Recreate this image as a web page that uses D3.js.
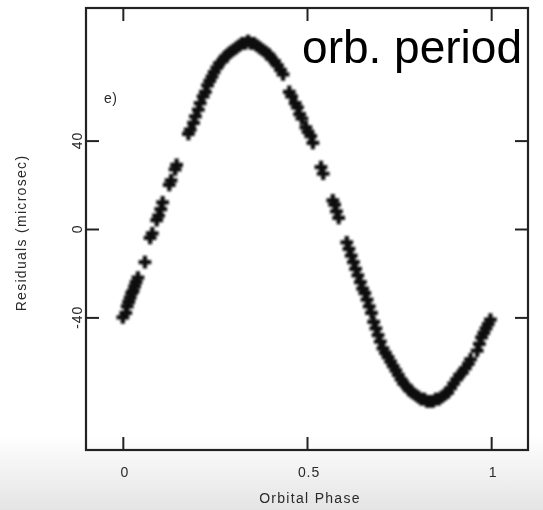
<!DOCTYPE html>
<html>
<head>
<meta charset="utf-8">
<script src="https://cdn.jsdelivr.net/npm/d3@7"></script>
<style>
  body { margin: 0; background: #fff; }
  text { font-family: "Liberation Sans", Arial, sans-serif; }
</style>
</head>
<body>
<div id="chart"></div>
<script>
// data: orbital phase vs timing residual (microsec)
var phase = [0.000, 0.008, 0.012, 0.016, 0.020, 0.024, 0.028, 0.032, 0.036, 0.041,
  0.060, 0.074, 0.080, 0.092, 0.097, 0.103, 0.108, 0.126, 0.131, 0.142, 0.146,
  0.178, 0.183, 0.192, 0.197, 0.205, 0.210, 0.218, 0.224, 0.230, 0.236, 0.242, 0.248,
  0.255, 0.262, 0.270, 0.278, 0.285, 0.292, 0.300, 0.308, 0.316, 0.324, 0.332, 0.340,
  0.348, 0.356, 0.364, 0.372, 0.380, 0.388, 0.396, 0.404, 0.412, 0.420, 0.428, 0.435,
  0.452, 0.458, 0.468, 0.474, 0.480, 0.486, 0.497, 0.503, 0.510, 0.516,
  0.538, 0.544, 0.570, 0.575, 0.580, 0.586,
  0.608, 0.614, 0.620, 0.626, 0.632, 0.638, 0.645, 0.651, 0.657, 0.663, 0.669, 0.675,
  0.681, 0.687, 0.693, 0.699, 0.706, 0.713, 0.720, 0.727, 0.734, 0.741, 0.748, 0.755,
  0.762, 0.770, 0.778, 0.786, 0.794, 0.802, 0.810, 0.818, 0.826, 0.834, 0.842, 0.850,
  0.858, 0.866, 0.874, 0.882, 0.890, 0.898, 0.906, 0.914, 0.922, 0.930, 0.938, 0.944,
  0.962, 0.968, 0.974, 0.980, 0.986, 0.992, 0.998];
var residual = [-40, -38, -35, -33, -31, -29, -28, -26, -24, -22,
  -15, -4, -2, 4, 6, 9, 12, 20, 22, 27, 29,
  43, 45, 48, 51, 54, 57, 60, 62, 65, 67, 69, 71,
  73, 75, 76, 78, 79, 80, 81, 82, 83, 84, 84, 85,
  84, 84, 83, 82, 81, 80, 79, 77, 76, 74, 72, 70,
  62, 60, 57, 55, 52, 50, 46, 44, 42, 39,
  28, 25, 13, 11, 8, 5,
  -6, -9, -12, -15, -18, -21, -24, -27, -29, -32, -35, -38,
  -42, -45, -48, -51, -54, -56, -58, -60, -62, -64, -66, -68,
  -70, -71, -73, -74, -75, -76, -77, -77, -78, -78, -78, -77,
  -77, -76, -75, -74, -72, -70, -68, -66, -65, -63, -61, -59,
  -55, -52, -49, -47, -45, -43, -41];

var xTicks = [0, 0.5, 1];
var xTickLabels = ["0", "0.5", "1"];
var yTicks = [-40, 0, 40];
var yTickLabels = ["-40", "0", "40"];

var svgWidth = 543;
var svgHeight = 510;
var margin = {top: 8, right: 15, bottom: 60, left: 86};
var width = svgWidth - margin.left - margin.right;
var height = svgHeight - margin.top - margin.bottom;

var svg = d3.select("#chart")
  .append("svg")
  .attr("width", svgWidth)
  .attr("height", svgHeight);

var defs = svg.append("defs");
var grad = defs.append("linearGradient")
  .attr("id", "bg")
  .attr("x1", 0).attr("y1", 0).attr("x2", 0).attr("y2", 1);
grad.append("stop").attr("offset", "0%").attr("stop-color", "#ffffff");
grad.append("stop").attr("offset", "100%").attr("stop-color", "#e4e4e4");

defs.append("filter")
  .attr("id", "soft")
  .append("feGaussianBlur")
  .attr("stdDeviation", 0.8);

defs.append("filter")
  .attr("id", "softText")
  .append("feGaussianBlur")
  .attr("stdDeviation", 0.35);

// greyish fade at the bottom of the picture
svg.append("rect")
  .attr("x", 0).attr("y", 435)
  .attr("width", svgWidth).attr("height", svgHeight - 435)
  .attr("fill", "url(#bg)");

var chartGroup = svg.append("g")
  .attr("transform", `translate(${margin.left}, ${margin.top})`);

var xScale = d3.scaleLinear().domain([-0.1, 1.1]).range([0, width]);
var yScale = d3.scaleLinear().domain([-100, 100]).range([height, 0]);

var tickLen = 13;

//Axes - ticks point inward on every side
var bottomAxis = d3.axisBottom(xScale).tickValues(xTicks).tickSize(-tickLen).tickFormat("");
var topAxis = d3.axisTop(xScale).tickValues(xTicks).tickSize(-tickLen).tickFormat("");
var leftAxis = d3.axisLeft(yScale).tickValues(yTicks).tickSize(-tickLen).tickFormat("");
var rightAxis = d3.axisRight(yScale).tickValues(yTicks).tickSize(-tickLen).tickFormat("");

chartGroup.append("g").attr("transform", `translate(0, ${height})`).call(bottomAxis);
chartGroup.append("g").call(topAxis);
chartGroup.append("g").call(leftAxis);
chartGroup.append("g").attr("transform", `translate(${width}, 0)`).call(rightAxis);

chartGroup.selectAll(".domain").remove();
chartGroup.selectAll(".tick line")
  .attr("stroke", "#222")
  .attr("stroke-width", 2);

chartGroup.append("rect")
  .attr("width", width)
  .attr("height", height)
  .attr("fill", "none")
  .attr("stroke", "#222")
  .attr("stroke-width", 2.2);

var labels = chartGroup.append("g")
  .attr("fill", "#2a2a2a")
  .attr("font-size", "14px")
  .attr("letter-spacing", "0.9px")
  .attr("filter", "url(#softText)");

//Tick labels
labels.selectAll(".xlab")
  .data(xTicks)
  .enter()
  .append("text")
  .attr("x", d => xScale(d) + 2)
  .attr("y", height + 27)
  .attr("text-anchor", "middle")
  .text((d, i) => xTickLabels[i]);

labels.selectAll(".ylab")
  .data(yTicks)
  .enter()
  .append("text")
  .attr("transform", d => `translate(-4, ${yScale(d)}) rotate(-90)`)
  .attr("text-anchor", "middle")
  .text((d, i) => yTickLabels[i]);

//Axis titles
labels.append("text")
  .attr("x", xScale(0.5) + 3)
  .attr("y", height + 53)
  .attr("text-anchor", "middle")
  .attr("letter-spacing", "1.3px")
  .text("Orbital Phase");

labels.append("text")
  .attr("transform", `translate(-60, ${yScale(0) + 4}) rotate(-90)`)
  .attr("text-anchor", "middle")
  .attr("letter-spacing", "1.3px")
  .text("Residuals (microsec)");

labels.append("text")
  .attr("x", 18)
  .attr("y", 95)
  .attr("letter-spacing", "0.5px")
  .text("e)");

//Points
var cross = d3.symbol().type(d3.symbolCross).size(90);
chartGroup.append("g")
  .attr("filter", "url(#soft)")
  .selectAll("path")
  .data(phase)
  .enter()
  .append("path")
  .attr("transform", (d, i) => `translate(${xScale(d)}, ${yScale(residual[i])})`)
  .attr("d", cross)
  .attr("fill", "#111");

svg.append("text")
  .attr("x", 522)
  .attr("y", 63)
  .attr("text-anchor", "end")
  .attr("font-size", "46px")
  .attr("fill", "#000")
  .text("orb. period");
</script>
</body>
</html>
